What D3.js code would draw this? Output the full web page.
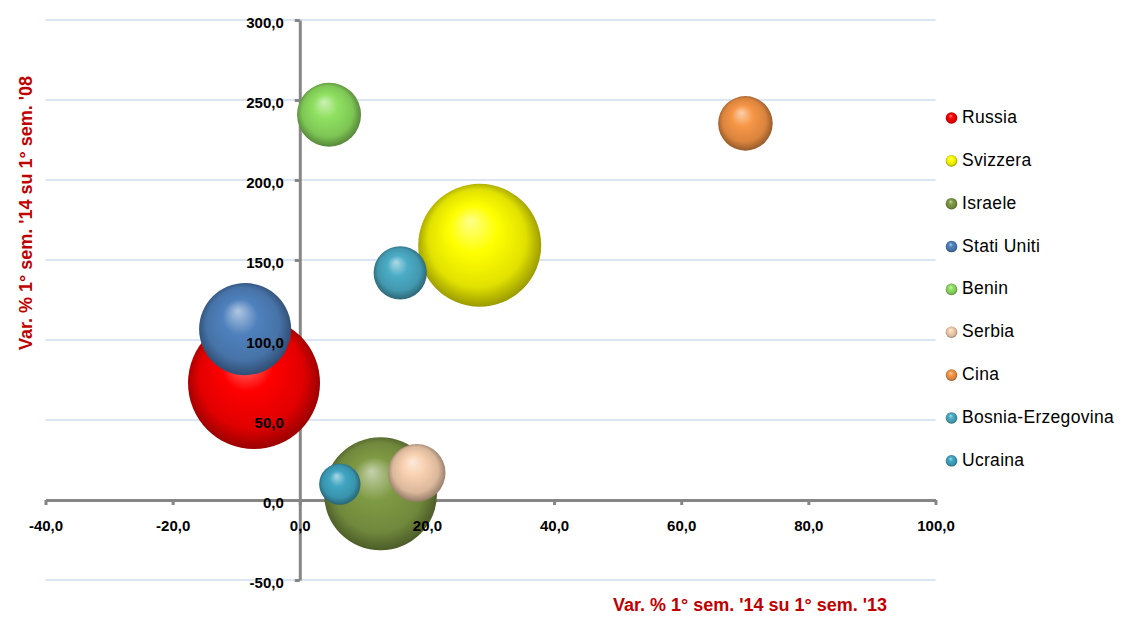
<!DOCTYPE html>
<html><head><meta charset="utf-8">
<script src="https://cdn.jsdelivr.net/npm/d3@7"></script>
<style>
body{margin:0;background:#fff;}
text{font-family:"Liberation Sans",Arial,sans-serif;}
</style>
</head><body>
<svg id="chart" width="1121" height="617"></svg>
<script>
// ---- data ----
const countries = ["Russia","Svizzera","Israele","Stati Uniti","Benin","Serbia","Cina","Bosnia-Erzegovina","Ucraina"];
const varX = [-7.2, 28.3, 12.7, -8.6, 4.6, 18.4, 70.1, 15.8, 6.3];   // Var. % 1° sem. '14 su 1° sem. '13
const varY = [73.1, 159.2, 3.9, 106.8, 240.8, 17.0, 235.4, 142.0, 9.9]; // Var. % 1° sem. '14 su 1° sem. '08
const sizes = [100, 86.8, 73.3, 48.6, 23.5, 19.0, 17.1, 16.3, 9.8];
const colors = ["#ff0000","#ffff00","#7f9a44","#4f81bd","#8fe060","#f8d0b0","#f79646","#4bacc6","#40a6c2"];
const xTicks = [-40,-20,0,20,40,60,80,100];
const yTicks = [-50,0,50,100,150,200,250,300];
const xTitle = "Var. % 1° sem. '14 su 1° sem. '13";
const yTitle = "Var. % 1° sem. '14 su 1° sem. '08";

const svg = d3.select("#chart");
const x = d3.scaleLinear().domain([-40,100]).range([45.5,935.5]);
const y = d3.scaleLinear().domain([-50,300]).range([580,20]);
const r = d3.scaleSqrt().domain([0,100]).range([0,66]);
const fmt = v => d3.format(".1f")(v).replace(".", ",").replace("\u2212", "-");

// gradients
const defs = svg.append("defs");
colors.forEach((c,i) => {
  const base = d3.color(c);
  const light = d3.interpolateRgb(c, "#ffffff")(0.55);
  const dark1 = base.darker(0.35);
  const dark2 = base.darker(1.4);
  const g = defs.append("radialGradient").attr("id","g"+i)
    .attr("cx","50%").attr("cy","50%").attr("r","55%")
    .attr("fx","42%").attr("fy","30%");
  g.append("stop").attr("offset","0%").attr("stop-color",light);
  g.append("stop").attr("offset","35%").attr("stop-color",c);
  g.append("stop").attr("offset","72%").attr("stop-color",dark1.formatHex());
  g.append("stop").attr("offset","93%").attr("stop-color",dark2.formatHex());
  g.append("stop").attr("offset","100%").attr("stop-color",dark1.formatHex());
});

// gridlines
svg.append("g").selectAll("line").data(yTicks.filter(d => d !== 0)).join("line")
  .attr("x1", x(-40)).attr("x2", x(100))
  .attr("y1", d => y(d)).attr("y2", d => y(d))
  .attr("stroke","#b9cde5").attr("stroke-width",1);

// axis lines (below bubbles)
const axisColor = "#868686";
const yAxisLines = svg.append("g").attr("transform",`translate(${x(0)},0)`)
  .call(d3.axisLeft(y).tickValues(yTicks).tickSize(5).tickSizeOuter(0).tickFormat(""));
const xAxisLines = svg.append("g").attr("transform",`translate(0,${y(0)})`)
  .call(d3.axisBottom(x).tickValues(xTicks).tickSize(5).tickSizeOuter(0).tickFormat(""));
[yAxisLines, xAxisLines].forEach(g => {
  g.select(".domain").attr("stroke",axisColor).attr("stroke-width",3);
  g.selectAll(".tick line").attr("stroke",axisColor).attr("stroke-width",3);
});

// bubbles
const idx = d3.range(countries.length);
svg.append("g").selectAll("circle").data(idx).join("circle")
  .attr("cx", i => x(varX[i])).attr("cy", i => y(varY[i]))
  .attr("r", i => r(sizes[i]))
  .attr("fill", i => `url(#g${i})`);

// axis labels (above bubbles)
const yAxisLab = svg.append("g").attr("transform",`translate(${x(0)},0)`)
  .call(d3.axisLeft(y).tickValues(yTicks).tickSize(0).tickPadding(16).tickFormat(fmt));
const xAxisLab = svg.append("g").attr("transform",`translate(0,${y(0)})`)
  .call(d3.axisBottom(x).tickValues(xTicks).tickSize(0).tickPadding(20).tickFormat(fmt));
[yAxisLab, xAxisLab].forEach(g => {
  g.select(".domain").remove();
  g.selectAll(".tick line").remove();
  g.selectAll("text").attr("fill","#000").style("font-size","15px").style("font-weight","bold")
    .style("font-family","'Liberation Sans',Arial,sans-serif");
});
yAxisLab.selectAll("text").attr("dy","0.5em");

// axis titles
svg.append("text").attr("x",750).attr("y",611).attr("text-anchor","middle")
  .attr("fill","#c00000").style("font-size","18px").style("font-weight","bold").text(xTitle);
svg.append("text").attr("transform","translate(32,213) rotate(-90)").attr("text-anchor","middle")
  .attr("fill","#c00000").style("font-size","18px").style("font-weight","bold").text(yTitle);

// legend
const leg = svg.append("g").selectAll("g").data(idx).join("g")
  .attr("transform", i => `translate(951.5,${118 + i*42.85})`);
leg.append("circle").attr("r",5.8).attr("fill", i => `url(#g${i})`);
leg.append("text").attr("x",10.5).attr("y",5).attr("fill","#000")
  .style("font-size","17.5px").style("letter-spacing","0.3px").text(i => countries[i]);
</script>
</body></html>
